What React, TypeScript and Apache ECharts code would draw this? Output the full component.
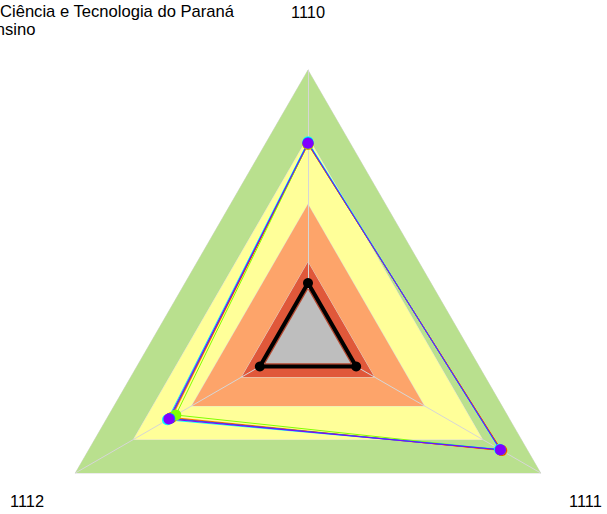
import React, { useEffect, useRef } from "react";
import * as echarts from "echarts";

// ---- data ----
const indicators = ["1110", "1112", "1111"]; // counter-clockwise from top
const axisMax = 100;
const bandLevels = [100, 75, 50, 28.5];
const innerLevel = 18.3;
const groupNames = ["G1", "G2", "G3", "G4", "G5", "G6"];
const groupValues = [
  [72.3, 58.6, 83.3],
  [72.6, 59.2, 83.0],
  [72.5, 56.8, 82.8],
  [73.3, 60.4, 82.3],
  [72.9, 59.4, 82.6],
  [72.7, 59.8, 82.7],
];
const referenceValues = [20.7, 20.7, 20.7];
const titleLines = [
  "Instituto Federal de Educação, Ciência e Tecnologia do Paraná",
  "Ensino",
];

// ---- styles ----
const bandColors = ["#B9E08E", "#FFFF99", "#FDA46A", "#E0583A"];
const groupColors = ["#FF8000", "#FF0000", "#80FF00", "#00FFFF", "#0080FF", "#8000FF"];
const TITLE_FONT = "16.6px 'Liberation Sans', Arial, sans-serif";
const LABEL_FONT = "16.4px 'Liberation Sans', Arial, sans-serif";

function txt(text: string, x: number, y: number, align: string, font: string) {
  return {
    type: "text",
    x,
    y,
    silent: true,
    style: {
      text,
      font,
      fill: "#000000",
      align,
      textAlign: align,
      verticalAlign: "middle",
      textVerticalAlign: "middle",
    },
  };
}

export default function App() {
  const ref = useRef<HTMLDivElement>(null);
  useEffect(() => {
    if (!ref.current) return;
    const chart = echarts.init(ref.current, undefined, { renderer: "svg" });

    const bandSeries = bandLevels.map((lv, i) => ({
      type: "radar",
      z: 2,
      silent: true,
      symbol: "none",
      lineStyle: { color: "#DCDCDC", width: 1 },
      areaStyle: { color: bandColors[i], opacity: 1 },
      data: [{ value: indicators.map(() => lv), name: "band" + i }],
    }));

    const innerSeries = {
      type: "radar",
      z: 4,
      silent: true,
      symbol: "none",
      lineStyle: { color: "#B3472F", width: 2.5 },
      areaStyle: { color: "#BEBEBE", opacity: 1 },
      data: [{ value: indicators.map(() => innerLevel), name: "inner" }],
    };

    const groupSeries = groupValues.map((vals, i) => ({
      type: "radar",
      z: 5,
      name: groupNames[i],
      symbol: "circle",
      symbolSize: 11,
      lineStyle: { color: groupColors[i], width: 1 },
      itemStyle: { color: groupColors[i] },
      data: [{ value: vals, name: groupNames[i] }],
    }));

    const refSeries = {
      type: "radar",
      z: 6,
      symbol: "circle",
      symbolSize: 10,
      lineStyle: { color: "#000000", width: 4 },
      itemStyle: { color: "#000000" },
      data: [{ value: referenceValues, name: "ref" }],
    };

    chart.setOption({
      animation: false,
      backgroundColor: "#ffffff",
      radar: {
        z: 3,
        shape: "polygon",
        center: [308, 338.7],
        radius: 268.7,
        startAngle: 90,
        indicator: indicators.map((n) => ({ name: n, max: axisMax, min: 0 })),
        axisName: { show: false },
        axisLine: { lineStyle: { color: "#D6D6D6", width: 1 } },
        splitLine: { show: false },
        splitArea: { show: false },
        axisTick: { show: false },
        axisLabel: { show: false },
      },
      graphic: [
        txt(titleLines[0], 234, 11.7, "right", TITLE_FONT),
        txt(titleLines[1], 35.5, 29.6, "right", TITLE_FONT),
        txt(indicators[0], 308, 11.7, "center", LABEL_FONT),
        txt(indicators[2], 569, 501.4, "left", LABEL_FONT),
        txt(indicators[1], 10, 501.4, "left", LABEL_FONT),
      ],
      series: [...bandSeries, innerSeries, ...groupSeries, refSeries],
    });
    return () => chart.dispose();
  }, []);
  return (
    <div
      ref={ref}
      style={{ position: "fixed", left: 0, top: 0, width: 607, height: 514 }}
    />
  );
}
